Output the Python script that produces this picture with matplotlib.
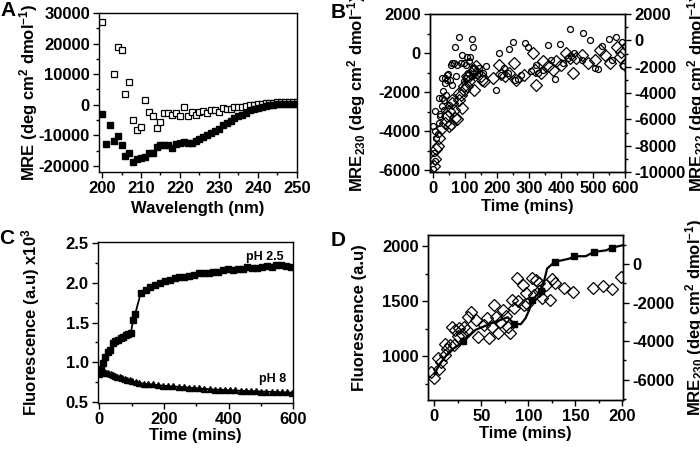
import matplotlib
matplotlib.use("Agg")
import matplotlib.pyplot as plt
from matplotlib.ticker import MultipleLocator

plt.rcParams["font.family"] = ["Liberation Sans", "DejaVu Sans"]
plt.rcParams["font.weight"] = "bold"
plt.rcParams["axes.labelweight"] = "bold"
plt.rcParams["axes.unicode_minus"] = False
plt.rcParams["mathtext.fontset"] = "custom"
plt.rcParams["mathtext.rm"] = "Liberation Sans:bold"
plt.rcParams["mathtext.bf"] = "Liberation Sans:bold"
plt.rcParams["mathtext.default"] = "bf"
plt.rcParams["axes.linewidth"] = 1.0

# ---------------------------------------------------------------------------
# Panel A: CD spectra
# ---------------------------------------------------------------------------
wl_open = [200, 203, 204, 205, 206, 207, 208, 209, 210, 211, 212, 213, 214, 215,
           216, 217, 218, 219, 220, 221, 222, 223, 224, 225, 226, 227, 228, 229,
           230, 231, 232, 233, 234, 235, 236, 237, 238, 239, 240, 241, 242, 243,
           244, 245, 246, 247, 248, 249, 250]
mre_open = [27000, 10000, 19000, 17800, 3600, 7400, -4900, -8400, -7300, 1500,
            -2400, -3600, -7700, -5800, -2600, -2800, -3400, -2600, -3800, -800,
            -3700, -2400, -3400, -2400, -2200, -2700, -1600, -1800, -2400, -1100,
            -1500, -1300, -800, -900, -900, -400, 0, 0, 400, 300, 500, 700, 600,
            800, 900, 1000, 900, 1000, 1000]
wl_filled = list(range(200, 251))
mre_filled = [-2900, -13000, -6500, -11700, -10300, -13300, -16900, -15900, -18600,
              -17700, -17300, -17000, -15900, -15900, -13900, -13300, -13300, -13100,
              -14000, -12800, -12500, -12300, -12400, -12400, -11900, -11100, -10500,
              -10000, -9100, -8600, -7800, -6700, -5900, -5300, -4400, -3800, -3300,
              -2600, -1800, -1300, -1000, -700, -400, -200, 0, 100, 200, 300, 300,
              400, 400]

# ---------------------------------------------------------------------------
# Panel B: MRE230 (circles, left) and MRE222 (diamonds, right) vs time
# ---------------------------------------------------------------------------
circ_t = [0, 0, 1, 6, 6, 6, 9, 15, 17, 19, 21, 22, 26, 27, 28, 31, 33, 34, 36,
          38, 39, 43, 44, 46, 48, 54, 55, 59, 60, 65, 67, 70, 74, 80, 86, 90, 95,
          97, 102, 104, 107, 109, 112, 116, 120, 122, 125, 126, 133, 138, 142, 144,
          155, 165, 196, 206, 212, 222, 233, 238, 249, 256, 264, 275, 288, 298,
          306, 322, 327, 344, 359, 369, 380, 398, 406, 422, 429, 432, 441, 464,
          469, 490, 506, 516, 527, 550, 558, 571, 590, 593, 600]
circ_mre = [-5970, -3720, -5120, -5540, -4010, -2990, -4350, -4150, -2310, -3600,
            -3150, -3240, -2300, -1290, -2730, -1970, -2390, -2900, -1300, -1540,
            -2140, -1110, -1370, -1100, -2650, -1370, -600, -520, -1630, -490, 300,
            -1200, -600, 810, -520, -90, -520, -1450, -600, -1300, -180, -1030, -400,
            -180, -1200, 700, 300, -770, -940, -1150, -770, -1000, -1000, -690,
            -1880, -10, -1110, -770, -1030, 210, 550, -1370, -1340, -1110, 500, 330,
            -940, -600, -1030, -860, 420, -350, -1320, 450, -520, -260, 1230, -140,
            -10, -380, 1010, 670, -770, -800, 380, 720, -350, 840, 590, -650, 370]
dia_t = [1, 6, 8, 15, 17, 28, 36, 42, 48, 49, 55, 59, 60, 65, 69, 76, 80, 81, 86,
         90, 95, 97, 105, 107, 111, 112, 123, 127, 128, 133, 149, 153, 159, 186,
         207, 211, 226, 238, 254, 259, 285, 312, 317, 322, 338, 343, 359, 375, 385,
         401, 416, 427, 437, 448, 464, 485, 506, 522, 537, 553, 574, 584, 587, 600]
dia_mre = [-9540, -9040, -8280, -8030, -7400, -6640, -6270, -5760, -6520, -5380,
           -6390, -4500, -4750, -5260, -5890, -6010, -4000, -4500, -4120, -5130,
           -3490, -3750, -3490, -2740, -2740, -3120, -2360, -2230, -3750, -1980,
           -2740, -2990, -3120, -2860, -1860, -2520, -2740, -2490, -1730, -2990,
           -2610, -970, -2230, -3370, -2490, -1600, -1980, -2230, -1600, -1860,
           -970, -1350, -2490, -1350, -1100, -1730, -1480, -720, -1100, -1730,
           -470, -1230, -850, -1860]

# ---------------------------------------------------------------------------
# Panel C: fluorescence at pH 2.5 and pH 8
# ---------------------------------------------------------------------------
ph25_t = [0, 5, 10, 18, 26, 34, 42, 50, 58, 66, 74, 82, 90, 98, 104, 111, 128,
          143, 158, 173, 188, 203, 218, 233, 248, 263, 278, 293, 308, 323, 338,
          353, 368, 383, 398, 413, 428, 443, 458, 473, 488, 503, 518, 533, 548,
          563, 578, 593]
ph25_f = [0.85, 0.92, 0.99, 1.06, 1.13, 1.16, 1.24, 1.27, 1.28, 1.31, 1.32, 1.34,
          1.35, 1.37, 1.53, 1.61, 1.87, 1.91, 1.95, 1.98, 2.00, 2.02, 2.04, 2.06,
          2.07, 2.08, 2.09, 2.10, 2.12, 2.12, 2.13, 2.14, 2.14, 2.16, 2.17, 2.16,
          2.18, 2.18, 2.20, 2.19, 2.19, 2.20, 2.21, 2.20, 2.23, 2.22, 2.21, 2.20]
ph8_t = [0, 5, 10, 16, 22, 28, 35, 42, 49, 56, 63, 70, 78, 86, 94, 102, 112, 124,
         137, 151, 166, 181, 197, 213, 229, 245, 261, 277, 293, 309, 325, 341, 357,
         373, 389, 405, 421, 437, 453, 469, 485, 501, 517, 533, 549, 565, 581, 597]
ph8_f = [0.89, 0.92, 0.90, 0.88, 0.87, 0.86, 0.85, 0.84, 0.83, 0.82, 0.81, 0.80,
         0.79, 0.78, 0.77, 0.76, 0.75, 0.74, 0.73, 0.725, 0.72, 0.71, 0.705, 0.70,
         0.695, 0.69, 0.685, 0.68, 0.675, 0.67, 0.665, 0.66, 0.655, 0.655, 0.65,
         0.645, 0.645, 0.64, 0.64, 0.635, 0.635, 0.63, 0.63, 0.625, 0.625, 0.62,
         0.62, 0.615]

# ---------------------------------------------------------------------------
# Panel D: fluorescence (line, left) and MRE230 (diamonds, right), 0-200 min
# ---------------------------------------------------------------------------
fl_t = [0, 7, 16, 29, 31, 44, 61, 78, 85, 92, 97, 101, 104, 113, 117, 120, 128,
        144, 149, 161, 170, 183, 189, 200]
fl_f = [840, 940, 1040, 1118, 1133, 1238, 1298, 1352, 1292, 1289, 1343, 1419,
        1509, 1590, 1690, 1795, 1855, 1886, 1907, 1907, 1946, 1961, 1985, 2006]
fl_marked = [4, 8, 12, 13, 16, 18, 20, 22]
d_t = [-3, 0, 5, 7, 4, 11, 13, 11, 17, 21, 19, 22, 25, 26, 30, 32, 36, 39, 35, 44,
       47, 53, 56, 58, 61, 66, 64, 68, 70, 73, 78, 81, 76, 83, 85, 88, 89, 94, 95,
       99, 97, 104, 106, 108, 111, 111, 115, 119, 123, 125, 128, 138, 148, 169,
       179, 189, 199]
d_mre = [-5585, -5930, -5464, -5066, -4858, -4720, -4409, -4167, -4201, -4201,
         -3250, -3423, -3735, -3302, -3631, -3250, -2766, -2472, -3423, -2905,
         -3769, -3164, -2818, -3856, -3250, -2766, -2127, -3596, -2991, -2386,
         -3250, -3562, -2697, -1867, -2300, -743, -1902, -1089, -2127, -2075,
         -1522, -743, -1608, -830, -1003, -1400, -1781, -1089, -1867, -795, -1003,
         -1262, -1452, -1262, -1141, -1314, -657]

W, H = 700, 449
fig = plt.figure(figsize=(7.0, 4.49), dpi=100)


def px_axes(left, top, right, bottom):
    return fig.add_axes([left / W, 1 - bottom / H, (right - left) / W, (bottom - top) / H])


def style(ax, right=False):
    ax.tick_params(which="both", direction="out", labelsize=12, width=1.0,
                   top=False, right=right, left=not right,
                   labelleft=not right, labelright=right)
    ax.tick_params(which="major", length=4.5, pad=2)
    ax.tick_params(which="minor", length=2.5)


# ---- A ----
axA = px_axes(99, 13, 296.7, 172)
axA.plot(wl_open, mre_open, "s", ms=4.2, mfc="white", mec="black", mew=0.9)
axA.plot(wl_filled, mre_filled, "s", ms=4.2, color="black")
axA.set_xlim(199.2, 250)
axA.set_ylim(-22000, 30000)
axA.xaxis.set_major_locator(MultipleLocator(10))
axA.xaxis.set_minor_locator(MultipleLocator(5))
axA.yaxis.set_major_locator(MultipleLocator(10000))
axA.yaxis.set_minor_locator(MultipleLocator(5000))
style(axA)
axA.set_xlabel("Wavelength (nm)", fontsize=12)
axA.set_ylabel(r"MRE (deg cm$^{2}$ dmol$^{-1}$)", fontsize=12)
axA.xaxis.set_label_coords(0.5, -0.18)
axA.yaxis.set_label_coords(-0.30, 0.5)

# ---- B ----
axB = px_axes(430, 14, 625, 172)
axB.plot(circ_t, circ_mre, "o", ms=4.3, mfc="none", mec="black", mew=0.9)
axB.set_xlim(-10, 600)
axB.set_ylim(-6100, 2000)
axB.xaxis.set_major_locator(MultipleLocator(100))
axB.xaxis.set_minor_locator(MultipleLocator(50))
axB.yaxis.set_major_locator(MultipleLocator(2000))
axB.yaxis.set_minor_locator(MultipleLocator(1000))
style(axB)
axB.set_xlabel("Time (mins)", fontsize=12)
axB.set_ylabel(r"MRE$_{230}$ (deg cm$^{2}$ dmol$^{-1}$)", fontsize=12)
axB.xaxis.set_label_coords(0.5, -0.17)
axB.yaxis.set_label_coords(-0.32, 0.5)
axB2 = axB.twinx()
axB2.plot(dia_t, dia_mre, "D", ms=6.0, mfc="none", mec="black", mew=0.9)
axB2.set_ylim(-10000, 2000)
axB2.yaxis.set_major_locator(MultipleLocator(2000))
axB2.yaxis.set_minor_locator(MultipleLocator(1000))
style(axB2, right=True)
axB2.set_ylabel(r"MRE$_{222}$ (deg cm$^{2}$ dmol$^{-1}$)", fontsize=12)
axB2.yaxis.set_label_coords(1.308, 0.5)

# ---- C ----
axC = px_axes(97.7, 241.7, 293.3, 402.7)
axC.plot(ph25_t, ph25_f, "-s", color="black", ms=4.2, lw=1.3)
axC.plot(ph8_t, ph8_f, "-^", color="black", ms=5.0, lw=1.3)
axC.set_xlim(-5, 600)
axC.set_ylim(0.49, 2.52)
axC.xaxis.set_major_locator(MultipleLocator(200))
axC.xaxis.set_minor_locator(MultipleLocator(100))
axC.yaxis.set_major_locator(MultipleLocator(0.5))
axC.yaxis.set_minor_locator(MultipleLocator(0.25))
style(axC)
axC.set_xlabel("Time (mins)", fontsize=12)
axC.set_ylabel(r"Fluorescence (a.u) x10$^{3}$", fontsize=12)
axC.xaxis.set_label_coords(0.5, -0.16)
axC.yaxis.set_label_coords(-0.285, 0.5)
axC.text(512, 2.33, "pH 2.5", fontsize=9, ha="center", va="center")
axC.text(537, 0.79, "pH 8", fontsize=9, ha="center", va="center")

# ---- D ----
axD = px_axes(427.7, 235, 623.3, 400)
axD.plot(fl_t, fl_f, "-s", color="black", ms=4.0, lw=1.6, markevery=fl_marked)
axD.set_xlim(-7, 201)
axD.set_ylim(600, 2100)
axD.xaxis.set_major_locator(MultipleLocator(50))
axD.xaxis.set_minor_locator(MultipleLocator(25))
axD.yaxis.set_major_locator(MultipleLocator(500))
axD.yaxis.set_minor_locator(MultipleLocator(250))
style(axD)
axD.set_xlabel("Time (mins)", fontsize=12)
axD.set_ylabel("Fluorescence (a.u)", fontsize=12)
axD.xaxis.set_label_coords(0.5, -0.155)
axD.yaxis.set_label_coords(-0.31, 0.5)
axD2 = axD.twinx()
axD2.plot(d_t, d_mre, "D", ms=6.5, mfc="none", mec="black", mew=0.9)
axD2.set_ylim(-7050, 1500)
axD2.yaxis.set_major_locator(MultipleLocator(2000))
axD2.yaxis.set_minor_locator(MultipleLocator(1000))
style(axD2, right=True)
axD2.set_ylabel(r"MRE$_{230}$ (deg cm$^{2}$ dmol$^{-1}$)", fontsize=12)
axD2.yaxis.set_label_coords(1.305, 0.5)

# panel letters
for letter, x, y in [("A", 8, 11), ("B", 338, 12), ("C", 7, 239), ("D", 338, 240)]:
    fig.text(x / W, 1 - y / H, letter, fontsize=15, fontweight="bold",
             ha="center", va="center")

fig.savefig("out.png", dpi=100)
